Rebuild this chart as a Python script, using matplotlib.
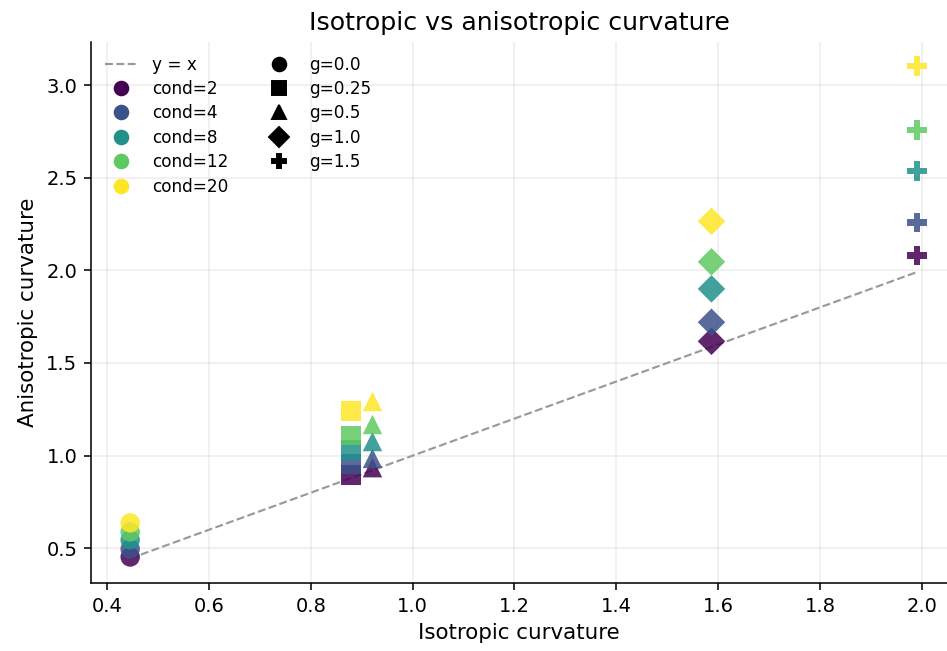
import numpy as np
import matplotlib
matplotlib.use("Agg")
import matplotlib.pyplot as plt
from matplotlib.lines import Line2D

# gamma values and their markers
g_values = [0.0, 0.25, 0.5, 1.0, 1.5]
g_markers = ['o', 's', '^', 'D', 'P']

# condition numbers
conds = [2, 4, 8, 12, 20]

# isotropic curvature for each g
iso_curv = [0.445, 0.879, 0.921, 1.587, 1.991]

# anisotropic curvature, one list per cond (over g)
aniso_cond2 = [0.453, 0.895, 0.935, 1.617, 2.080]
aniso_cond4 = [0.496, 0.955, 0.985, 1.720, 2.257]
aniso_cond8 = [0.545, 1.030, 1.076, 1.900, 2.536]
aniso_cond12 = [0.588, 1.110, 1.168, 2.046, 2.757]
aniso_cond20 = [0.637, 1.242, 1.292, 2.265, 3.103]
aniso = [aniso_cond2, aniso_cond4, aniso_cond8, aniso_cond12, aniso_cond20]

colors = plt.cm.viridis(np.linspace(0, 1, len(conds)))

dpi = 140
fig = plt.figure(figsize=(947 / dpi, 651 / dpi), dpi=dpi)
ax = fig.add_axes([91 / 947, 68 / 651, 856 / 947, 541 / 651])

# y = x reference line
lo, hi = min(iso_curv), max(iso_curv)
ax.plot([lo, hi], [lo, hi], '--', color='gray', alpha=0.8, lw=1.1, zorder=1)

# points
for j, g in enumerate(g_values):
    for i, c in enumerate(conds):
        ax.scatter(iso_curv[j], aniso[i][j], marker=g_markers[j], color=colors[i],
                   s=100, alpha=0.85, edgecolors='none', zorder=3)

ax.set_xlim(0.368, 2.0497)
ax.set_ylim(0.3125, 3.2325)
ax.set_xlabel('Isotropic curvature', fontsize=11)
ax.set_ylabel('Anisotropic curvature', fontsize=11)
ax.set_title('Isotropic vs anisotropic curvature', fontsize=13)
ax.grid(True, alpha=0.22)
ax.spines['top'].set_visible(False)
ax.spines['right'].set_visible(False)

# legend: line, cond colours, g markers
handles = [Line2D([0], [0], ls='--', color='gray', alpha=0.8, lw=1.1, label='y = x')]
for i, c in enumerate(conds):
    handles.append(Line2D([0], [0], marker='o', ls='', color=colors[i],
                          markersize=7, label=f'cond={c}'))
for j, g in enumerate(g_values):
    handles.append(Line2D([0], [0], marker=g_markers[j], ls='', color='black',
                          markersize=7, label=f'g={g}'))
ax.legend(handles=handles, ncol=2, fontsize=8.7, labelspacing=0.38,
          frameon=False, loc='upper left', borderaxespad=0.4)

fig.savefig('out.png', dpi=dpi)
